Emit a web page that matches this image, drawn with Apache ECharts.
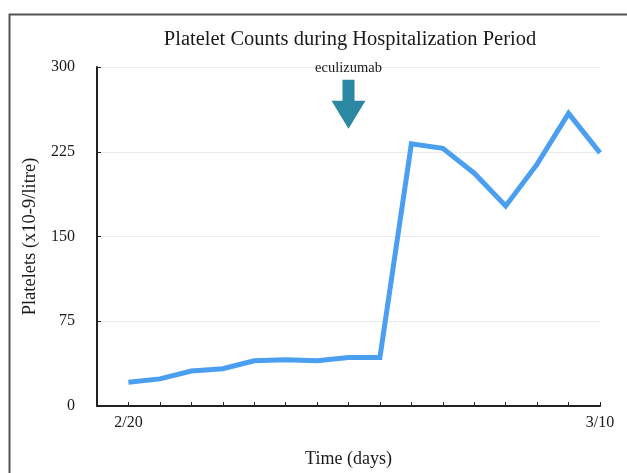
<!DOCTYPE html>
<html>
<head>
<meta charset="utf-8">
<script src="https://cdn.jsdelivr.net/npm/echarts@6/dist/echarts.min.js"></script>
<style>html,body{margin:0;padding:0;background:#fff}#c{width:627px;height:473px}</style>
</head>
<body>
<div id="c"></div>
<script>
var dayIndex = [1, 2, 3, 4, 5, 6, 7, 8, 9, 10, 11, 12, 13, 14, 15, 16];
var xTickLabels = ['2/20', '', '', '', '', '', '', '', '', '', '', '', '', '', '', '3/10'];
var platelets = [21, 24, 31, 33, 40, 41, 40, 43, 43, 232, 228, 206, 177, 214, 259, 224];
var yTicks = [0, 75, 150, 225, 300];
var eculizumabDay = 8;
var eculizumabLabel = 'eculizumab';

var serif = '"Liberation Serif", "DejaVu Serif", serif';
var chart = echarts.init(document.getElementById('c'));
chart.setOption({
  animation: false,
  title: {
    text: 'Platelet Counts during Hospitalization Period',
    left: 345, top: 24, textAlign: 'center',
    textStyle: { fontFamily: serif, fontSize: 20.5, fontWeight: 'normal', color: '#1a1a1a' }
  },
  graphic: [{
    type: 'rect', silent: true,
    shape: { x: 9.5, y: 14.5, width: 800, height: 800 },
    style: { fill: 'none', stroke: '#555', lineWidth: 2 }
  }],
  grid: { left: 97, right: 27, top: 67, bottom: 66 },
  xAxis: {
    type: 'value', min: 0, max: 16, interval: 1,
    name: 'Time (days)', nameLocation: 'middle', nameGap: 44,
    nameTextStyle: { fontFamily: serif, fontSize: 18, color: '#1a1a1a' },
    axisLine: { lineStyle: { color: '#222', width: 2 } },
    axisTick: { inside: true, length: 4, lineStyle: { color: '#222' } },
    splitLine: { show: false },
    axisLabel: {
      fontFamily: serif, fontSize: 16, color: '#1a1a1a', margin: 9,
      formatter: function (v) { var i = dayIndex.indexOf(v); return i >= 0 ? xTickLabels[i] : ''; }
    }
  },
  yAxis: {
    type: 'value', min: yTicks[0], max: yTicks[yTicks.length - 1], interval: yTicks[1] - yTicks[0],
    name: 'Platelets (x10-9/litre)', nameLocation: 'middle', nameGap: 57,
    nameTextStyle: { fontFamily: serif, fontSize: 18.5, color: '#1a1a1a' },
    axisLine: { show: true, lineStyle: { color: '#222', width: 2 } },
    axisTick: { show: true, inside: true, length: 4, lineStyle: { color: '#222' } },
    splitLine: { lineStyle: { color: '#ebebeb', width: 1 } },
    axisLabel: { fontFamily: serif, fontSize: 16, color: '#1a1a1a', margin: 22 }
  },
  series: [{
    type: 'line',
    data: dayIndex.map(function (d, i) { return [d, platelets[i]]; }),
    symbol: 'none',
    lineStyle: { color: '#4a9ff0', width: 5, join: 'miter' },
    markPoint: {
      silent: true,
      data: [{
        coord: [eculizumabDay, 267],
        symbol: 'path://M11,0 L23,0 L23,21 L34,21 L17,49 L0,21 L11,21 Z',
        symbolSize: [34, 49],
        symbolKeepAspect: false,
        itemStyle: { color: '#2b87a2' },
        label: {
          show: true, position: 'top', distance: 4, formatter: eculizumabLabel,
          fontFamily: serif, fontSize: 14.5, color: '#1a1a1a'
        }
      }]
    }
  }]
});
</script>
</body>
</html>
